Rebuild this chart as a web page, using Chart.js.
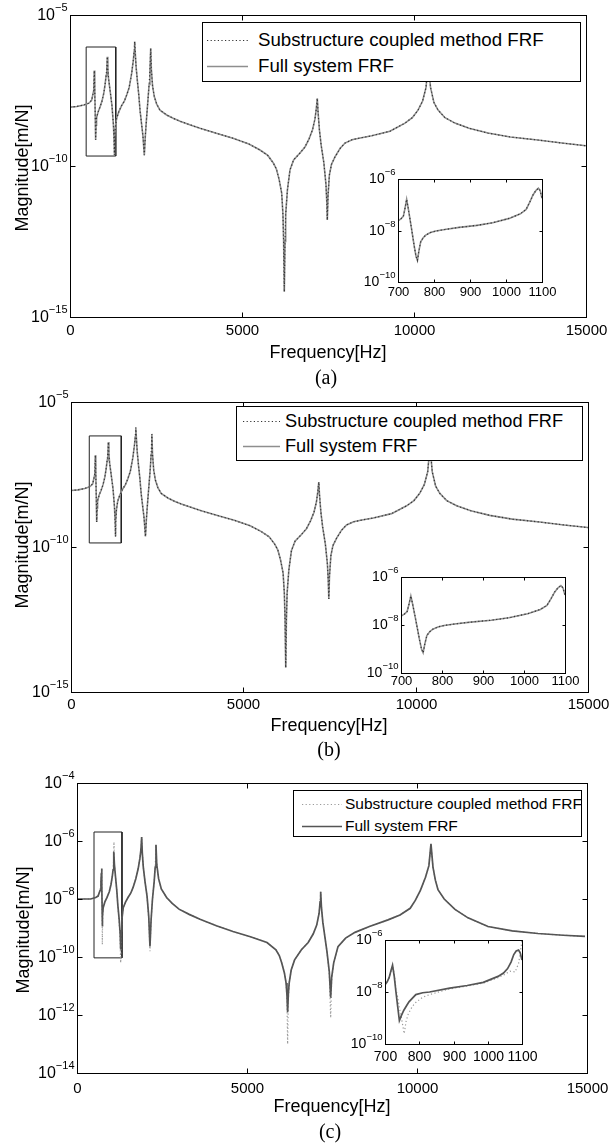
<!DOCTYPE html>
<html>
<head>
<meta charset="utf-8">
<script src="https://cdn.jsdelivr.net/npm/chart.js@4.4.1/dist/chart.umd.min.js"></script>
<style>
  html,body{margin:0;padding:0;background:#fff;}
  body{width:610px;height:1148px;position:relative;overflow:hidden;font-family:"Liberation Sans",Arial,Helvetica,sans-serif;color:#000;}
  canvas{position:absolute;left:0;top:0;}
  .t{position:absolute;white-space:nowrap;line-height:1;}
  .c{transform:translate(-50%,-50%);}
  .r{transform:translate(-50%,-50%) rotate(-90deg);}
  .cap{font-family:"Liberation Serif","DejaVu Serif",serif;font-size:20px;}
  .leg{position:absolute;border:1px solid #000;background:#fff;overflow:visible;}
  .leg svg{position:absolute;top:0;left:0;overflow:visible;}
</style>
</head>
<body>
<canvas id="mA"></canvas>
<canvas id="mB"></canvas>
<canvas id="mC"></canvas>
<canvas id="iA"></canvas>
<canvas id="iB"></canvas>
<canvas id="iC"></canvas>

<!-- panel (a) texts -->
<div class="t r" style="left:22px;top:168px;font-size:18px">Magnitude[m/N]</div>
<div class="t c" style="left:328px;top:352px;font-size:18px">Frequency[Hz]</div>
<div class="t c cap" style="left:326px;top:377px">(a)</div>
<div class="leg" style="left:202px;top:22px;width:377px;height:58px">
  <svg width="60" height="58"><line x1="4" y1="17.5" x2="45" y2="17.5" stroke="#333" stroke-width="1.2" stroke-dasharray="1.2,2.4"/><line x1="4" y1="43.5" x2="45" y2="43.5" stroke="#8e8e8e" stroke-width="1.6"/></svg>
  <div class="t" style="left:55px;top:8px;font-size:18.7px">Substructure coupled method FRF</div>
  <div class="t" style="left:55px;top:34px;font-size:18.7px">Full system FRF</div>
</div>

<!-- panel (b) texts -->
<div class="t r" style="left:22px;top:545px;font-size:18px">Magnitude[m/N]</div>
<div class="t c" style="left:329px;top:725px;font-size:18px">Frequency[Hz]</div>
<div class="t c cap" style="left:329px;top:749px">(b)</div>
<div class="leg" style="left:236px;top:406px;width:345px;height:53px">
  <svg width="60" height="53"><line x1="6" y1="14.5" x2="43" y2="14.5" stroke="#333" stroke-width="1.2" stroke-dasharray="1.2,2.4"/><line x1="6" y1="39.5" x2="43" y2="39.5" stroke="#8e8e8e" stroke-width="1.6"/></svg>
  <div class="t" style="left:48px;top:5px;font-size:18.2px">Substructure coupled method FRF</div>
  <div class="t" style="left:48px;top:30px;font-size:18.2px">Full system FRF</div>
</div>

<!-- panel (c) texts -->
<div class="t r" style="left:23px;top:930px;font-size:18px">Magnitude[m/N]</div>
<div class="t c" style="left:332px;top:1106px;font-size:18px">Frequency[Hz]</div>
<div class="t c cap" style="left:330px;top:1131px">(c)</div>
<div class="leg" style="left:293px;top:790px;width:287px;height:45px">
  <svg width="60" height="45"><line x1="8" y1="13.5" x2="48" y2="13.5" stroke="#9a9a9a" stroke-width="1.2" stroke-dasharray="1.2,2.4"/><line x1="8" y1="35.5" x2="48" y2="35.5" stroke="#555" stroke-width="1.6"/></svg>
  <div class="t" style="left:51px;top:5px;font-size:15.5px">Substructure coupled method FRF</div>
  <div class="t" style="left:51px;top:27px;font-size:15.5px">Full system FRF</div>
</div>

<script>
// ---------------- DATA (magnitudes given as log10 of m/N) ----------------
// Main FRF, panels (a) and (b): both methods coincide
const freqAB = [0,200,400,550,630,690,707,720,735,745,758,772,820,872,930,980,1020,1050,1070,1085,1100,1120,1163,1220,1260,1280,1290,1300,1320,1357,1420,1500,1580,1648,1720,1793,1840,1865,1880,1895,1920,1960,2000,2035,2080,2120,2160,2190,2220,2260,2300,2325,2346,2365,2400,2450,2520,2616,2810,3000,3200,3500,3779,4300,4738,5200,5523,5750,5910,6000,6080,6154,6190,6210,6230,6250,6270,6320,6395,6500,6686,6831,6950,7050,7120,7160,7189,7210,7250,7300,7380,7440,7465,7480,7500,7540,7600,7703,7850,7994,8200,8400,8770,9300,9738,9950,10117,10250,10350,10416,10480,10580,10700,10900,11190,11600,12150,12800,13600,14300,15000];
const logFullAB = [-8.05,-8.03,-7.98,-7.92,-7.82,-7.5,-6.84,-7.5,-8.4,-9.14,-8.65,-8.4,-8.2,-8.05,-7.85,-7.6,-7.3,-7.0,-6.75,-6.38,-6.8,-7.1,-7.48,-8.0,-8.6,-9.1,-9.64,-9.1,-8.7,-8.41,-8.2,-8.0,-7.85,-7.65,-7.4,-6.93,-6.5,-6.2,-5.88,-6.2,-6.7,-7.2,-7.65,-8.15,-8.6,-9.0,-9.64,-9.0,-8.5,-7.9,-7.3,-6.8,-6.1,-6.8,-7.35,-7.7,-7.95,-8.15,-8.31,-8.42,-8.52,-8.64,-8.75,-8.93,-9.08,-9.27,-9.47,-9.65,-9.9,-10.1,-10.45,-10.9,-11.6,-12.5,-14.16,-12.5,-11.6,-10.8,-10.13,-9.8,-9.57,-9.37,-9.1,-8.8,-8.45,-8.1,-7.76,-8.2,-8.8,-9.3,-9.9,-10.6,-11.2,-11.79,-11.0,-10.3,-9.95,-9.7,-9.42,-9.24,-9.13,-9.08,-9.0,-8.85,-8.58,-8.4,-8.15,-7.85,-7.4,-6.5,-7.4,-7.9,-8.15,-8.4,-8.58,-8.75,-8.91,-9.04,-9.14,-9.24,-9.33];
const logSubAB  = [-8.05,-8.03,-7.98,-7.92,-7.82,-7.5,-6.84,-7.5,-8.4,-9.14,-8.65,-8.4,-8.2,-8.05,-7.85,-7.6,-7.3,-7.0,-6.75,-6.38,-6.8,-7.1,-7.48,-8.0,-8.6,-9.1,-9.64,-9.1,-8.7,-8.41,-8.2,-8.0,-7.85,-7.65,-7.4,-6.93,-6.5,-6.2,-5.88,-6.2,-6.7,-7.2,-7.65,-8.15,-8.6,-9.0,-9.64,-9.0,-8.5,-7.9,-7.3,-6.8,-6.1,-6.8,-7.35,-7.7,-7.95,-8.15,-8.31,-8.42,-8.52,-8.64,-8.75,-8.93,-9.08,-9.27,-9.47,-9.65,-9.9,-10.1,-10.45,-10.9,-11.6,-12.5,-14.16,-12.5,-11.6,-10.8,-10.13,-9.8,-9.57,-9.37,-9.1,-8.8,-8.45,-8.1,-7.76,-8.2,-8.8,-9.3,-9.9,-10.6,-11.2,-11.79,-11.0,-10.3,-9.95,-9.7,-9.42,-9.24,-9.13,-9.08,-9.0,-8.85,-8.58,-8.4,-8.15,-7.85,-7.4,-6.5,-7.4,-7.9,-8.15,-8.4,-8.58,-8.75,-8.91,-9.04,-9.14,-9.24,-9.33];

// Main FRF, panel (c)
const freqC = [0,400,550,620,680,705,718,726,732,740,745,752,770,820,880,950,1000,1040,1060,1075,1088,1100,1130,1170,1200,1240,1270,1285,1300,1320,1360,1430,1500,1580,1650,1730,1800,1850,1880,1902,1920,1950,2000,2060,2110,2146,2180,2220,2270,2300,2323,2345,2400,2480,2635,2800,3000,3300,3618,4100,4588,5100,5588,5850,5950,6020,6100,6150,6175,6195,6215,6240,6300,6400,6600,6800,6950,7050,7120,7150,7167,7190,7230,7290,7350,7420,7461,7490,7550,7676,7900,8176,8600,9147,9500,9800,9950,10100,10250,10350,10411,10470,10540,10617,10800,11117,11500,12088,12800,13558,14300,14940];
const logFullC = [-8.0,-8.0,-7.95,-7.9,-7.7,-7.4,-7.1,-6.95,-7.5,-8.4,-8.95,-8.6,-8.3,-8.1,-7.95,-7.75,-7.5,-7.2,-7.0,-6.75,-6.37,-6.8,-7.2,-7.7,-8.2,-8.7,-9.2,-9.74,-9.1,-8.7,-8.3,-8.1,-7.95,-7.8,-7.6,-7.3,-6.95,-6.6,-6.3,-5.86,-6.4,-6.9,-7.4,-7.9,-8.6,-9.64,-8.7,-8.0,-7.4,-6.9,-6.13,-6.8,-7.3,-7.65,-7.95,-8.15,-8.35,-8.53,-8.7,-8.92,-9.12,-9.3,-9.5,-9.75,-9.95,-10.2,-10.55,-10.9,-11.3,-11.9,-11.3,-10.9,-10.45,-10.1,-9.75,-9.5,-9.2,-8.9,-8.5,-8.1,-7.75,-8.3,-8.8,-9.3,-9.8,-10.5,-11.4,-10.7,-10.2,-9.64,-9.35,-9.15,-8.95,-8.72,-8.55,-8.32,-8.05,-7.7,-7.25,-6.85,-6.1,-6.9,-7.35,-7.68,-8.0,-8.36,-8.65,-8.95,-9.1,-9.19,-9.25,-9.29];
const logSubC  = [-8.0,-8.0,-7.95,-7.9,-7.7,-7.4,-7.1,-6.95,-7.5,-8.6,-9.57,-8.8,-8.3,-8.1,-7.95,-7.75,-7.5,-7.2,-7.0,-6.7,-6.03,-6.8,-7.2,-7.7,-8.2,-8.8,-9.5,-10.2,-9.2,-8.7,-8.3,-8.1,-7.95,-7.8,-7.6,-7.3,-6.95,-6.6,-6.3,-5.86,-6.4,-6.9,-7.4,-7.9,-8.7,-9.8,-8.75,-8.0,-7.4,-6.9,-6.13,-6.8,-7.3,-7.65,-7.95,-8.15,-8.35,-8.53,-8.7,-8.92,-9.12,-9.3,-9.5,-9.75,-9.95,-10.2,-10.55,-10.9,-11.5,-13.0,-11.5,-10.9,-10.45,-10.1,-9.75,-9.5,-9.2,-8.9,-8.5,-8.1,-7.75,-8.3,-8.8,-9.3,-9.8,-10.6,-12.1,-10.8,-10.2,-9.64,-9.35,-9.15,-8.95,-8.72,-8.55,-8.32,-8.05,-7.7,-7.25,-6.85,-6.1,-6.9,-7.35,-7.68,-8.0,-8.36,-8.65,-8.95,-9.1,-9.19,-9.25,-9.29];

// Zoom-in windows (700-1100 Hz)
const insetFreqAB = [700,708,715,720,724,728,735,745,750,754,758,763,770,777,790,805,830,870,920,963,1009,1040,1056,1066,1075,1083,1090,1095,1100];
const insetLogFullAB = [-7.63,-7.55,-7.44,-7.1,-6.79,-7.1,-7.7,-8.6,-9.0,-9.16,-8.8,-8.44,-8.28,-8.18,-8.08,-8.02,-7.96,-7.88,-7.8,-7.7,-7.53,-7.35,-7.18,-6.9,-6.62,-6.45,-6.36,-6.45,-6.75];
const insetLogSubAB  = [-7.63,-7.55,-7.44,-7.1,-6.79,-7.1,-7.7,-8.6,-9.0,-9.16,-8.8,-8.44,-8.28,-8.18,-8.08,-8.02,-7.96,-7.88,-7.8,-7.7,-7.53,-7.35,-7.18,-6.9,-6.62,-6.45,-6.36,-6.45,-6.75];
const insetFreqFullC = [700,706,712,718,722,727,732,737,742,748,755,762,770,790,810,830,889,940,987,1030,1046,1058,1068,1076,1083,1090,1095,1100];
const insetLogFullC  = [-7.72,-7.62,-7.45,-7.15,-6.97,-7.4,-8.0,-8.55,-9.1,-8.9,-8.7,-8.55,-8.38,-8.1,-8.03,-8.0,-7.85,-7.75,-7.63,-7.4,-7.27,-7.1,-6.85,-6.56,-6.42,-6.39,-6.5,-6.77];
const insetFreqSubC  = [700,706,712,718,722,727,732,737,742,748,756,762,768,780,790,810,830,889,940,987,1030,1046,1065,1080,1090,1095,1100];
const insetLogSubC   = [-7.72,-7.62,-7.45,-7.2,-7.0,-7.3,-7.9,-8.2,-8.6,-9.0,-9.6,-9.1,-8.84,-8.55,-8.4,-8.2,-8.1,-7.88,-7.77,-7.66,-7.45,-7.35,-7.2,-7.23,-6.9,-6.5,-6.0];

// Zoom rectangles drawn on the main plots [f0, f1, log10 top, log10 bottom]
const zoomBoxA = [470, 1330, -6.06, -9.67];
const zoomBoxB = [530, 1458, -6.17, -9.86];
const zoomBoxC = [500, 1323, -5.69, -10.03];

// Tick values
const xTicksMain = [0, 5000, 10000, 15000];
const yTicksAB = [1e-5, 1e-10, 1e-15];
const yTicksC = [1e-4, 1e-6, 1e-8, 1e-10, 1e-12, 1e-14];
const xTicksInset = [700, 800, 900, 1000, 1100];
const yTicksInset = [1e-6, 1e-8, 1e-10];

// ---------------- DRAWING ----------------
const W = 610, H = 1148;
const FONT = '"Liberation Sans", Arial, Helvetica, sans-serif';
const pts = (fs, logs) => fs.map((f, i) => ({x: f, y: Math.pow(10, logs[i])}));
const boxPts = b => [[b[0],b[2]],[b[1],b[2]],[b[1],b[3]],[b[0],b[3]],[b[0],b[2]]].map(p => ({x: p[0], y: Math.pow(10, p[1])}));

const framePlugin = {
  id: 'frame',
  afterDraw(chart, args, o) {
    const ctx = chart.ctx, a = chart.chartArea, xs = chart.scales.x, ys = chart.scales.y;
    ctx.save();
    ctx.strokeStyle = '#000';
    ctx.lineWidth = 1;
    const L = Math.round(a.left) + 0.5, T = Math.round(a.top) + 0.5;
    const R = Math.round(a.right) + 0.5, B = Math.round(a.bottom) + 0.5;
    ctx.strokeRect(L, T, R - L, B - T);
    ctx.fillStyle = '#000';
    ctx.textBaseline = 'middle';
    o.xTicks.forEach(v => {
      const px = Math.round(xs.getPixelForValue(v)) + 0.5;
      ctx.beginPath();
      ctx.moveTo(px, B); ctx.lineTo(px, B - o.tickLen);
      ctx.moveTo(px, T); ctx.lineTo(px, T + o.tickLen);
      ctx.stroke();
      ctx.font = o.tickFont + 'px ' + FONT;
      ctx.textAlign = 'center';
      ctx.fillText(String(v), px, B + o.xGap);
    });
    o.yTicks.forEach(v => {
      const py = Math.round(ys.getPixelForValue(v)) + 0.5;
      ctx.beginPath();
      ctx.moveTo(L, py); ctx.lineTo(L + o.tickLen, py);
      ctx.moveTo(R, py); ctx.lineTo(R - o.tickLen, py);
      ctx.stroke();
      const e = Math.round(Math.log10(v));
      const expTxt = (e < 0 ? '\u2212' : '') + Math.abs(e);
      ctx.textAlign = 'left';
      ctx.font = o.expFont + 'px ' + FONT;
      const we = ctx.measureText(expTxt).width;
      ctx.font = o.baseFont + 'px ' + FONT;
      const wb = ctx.measureText('10').width;
      const right = L - o.yGap;
      ctx.fillText('10', right - we - wb, py);
      ctx.font = o.expFont + 'px ' + FONT;
      ctx.fillText(expTxt, right - we, py - o.expRaise);
    });
    ctx.restore();
  }
};

function makeChart(id, area, datasets, xr, yr, frame) {
  const cv = document.getElementById(id);
  cv.width = W; cv.height = H;
  cv.style.width = W + 'px'; cv.style.height = H + 'px';
  return new Chart(cv, {
    type: 'line',
    data: { datasets },
    options: {
      responsive: false,
      animation: false,
      devicePixelRatio: 1,
      layout: { padding: { left: area[0], top: area[1], right: W - area[2], bottom: H - area[3] } },
      scales: {
        x: { type: 'linear', display: false, min: xr[0], max: xr[1] },
        y: { type: 'logarithmic', display: false, min: yr[0], max: yr[1] }
      },
      elements: { point: { radius: 0 }, line: { tension: 0 } },
      plugins: { legend: { display: false }, tooltip: { enabled: false }, frame }
    },
    plugins: [framePlugin]
  });
}

const darkDot = { borderColor: '#333', borderWidth: 1.2, borderDash: [1.2, 2.4] };
const lightSolid = { borderColor: '#8e8e8e', borderWidth: 1.6 };
const lightDot = { borderColor: '#9a9a9a', borderWidth: 1.2, borderDash: [1.2, 2.4] };
const darkSolid = { borderColor: '#555', borderWidth: 1.7 };

const mainFrameAB = { xTicks: xTicksMain, yTicks: yTicksAB, tickLen: 5, tickFont: 15, baseFont: 16, expFont: 11, expRaise: 8, yGap: 3 };

// Panel (a)
makeChart('mA', [70, 15, 586, 317], [
  Object.assign({ label: 'Substructure coupled method FRF', data: pts(freqAB, logSubAB), order: 0 }, darkDot),
  Object.assign({ label: 'Full system FRF', data: pts(freqAB, logFullAB), order: 1 }, lightSolid),
  { label: 'zoom', data: boxPts(zoomBoxA), borderColor: '#222', borderWidth: 1, order: 2 }
], [0, 15000], [1e-15, 1e-5], Object.assign({ xGap: 13 }, mainFrameAB));

// Panel (b)
makeChart('mB', [71, 402, 588, 692], [
  Object.assign({ label: 'Substructure coupled method FRF', data: pts(freqAB, logSubAB), order: 0 }, darkDot),
  Object.assign({ label: 'Full system FRF', data: pts(freqAB, logFullAB), order: 1 }, lightSolid),
  { label: 'zoom', data: boxPts(zoomBoxB), borderColor: '#222', borderWidth: 1, order: 2 }
], [0, 15000], [1e-15, 1e-5], Object.assign({ xGap: 12 }, mainFrameAB));

// Panel (c)
makeChart('mC', [77, 783, 587, 1073], [
  Object.assign({ label: 'Full system FRF', data: pts(freqC, logFullC), order: 0 }, darkSolid),
  Object.assign({ label: 'Substructure coupled method FRF', data: pts(freqC, logSubC), order: 1 }, lightDot),
  { label: 'zoom', data: boxPts(zoomBoxC), borderColor: '#222', borderWidth: 1, order: 2 }
], [0, 15000], [1e-14, 1e-4], { xTicks: xTicksMain, yTicks: yTicksC, tickLen: 5, tickFont: 15, baseFont: 16, expFont: 11, expRaise: 8, yGap: 3, xGap: 15 });

// Insets
const insetFrame = { xTicks: xTicksInset, yTicks: yTicksInset, tickLen: 3, tickFont: 13, baseFont: 14, expFont: 9.5, expRaise: 7, yGap: 3 };
makeChart('iA', [398, 179, 542, 282], [
  Object.assign({ data: pts(insetFreqAB, insetLogSubAB), order: 0 }, darkDot),
  Object.assign({ data: pts(insetFreqAB, insetLogFullAB), order: 1 }, lightSolid)
], [700, 1100], [1e-10, 1e-6], Object.assign({ xGap: 10 }, insetFrame));

makeChart('iB', [401, 577, 565, 673], [
  Object.assign({ data: pts(insetFreqAB, insetLogSubAB), order: 0 }, darkDot),
  Object.assign({ data: pts(insetFreqAB, insetLogFullAB), order: 1 }, lightSolid)
], [700, 1100], [1e-10, 1e-6], Object.assign({ xGap: 8 }, insetFrame));

makeChart('iC', [385, 940, 522, 1044], [
  Object.assign({ data: pts(insetFreqFullC, insetLogFullC), order: 0 }, darkSolid),
  Object.assign({ data: pts(insetFreqSubC, insetLogSubC), order: 1 }, lightDot)
], [700, 1100], [1e-10, 1e-6], Object.assign({ xGap: 13 }, insetFrame, { tickFont: 14 }));
</script>
</body>
</html>
